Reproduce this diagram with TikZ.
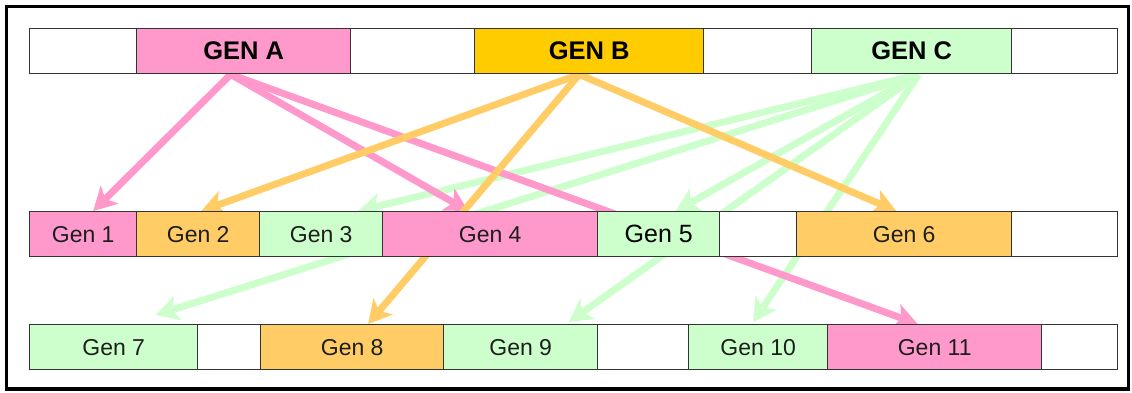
\documentclass[tikz,border=0pt]{standalone}
\usepackage{fontspec}
\setmainfont{Liberation Sans}
\usetikzlibrary{arrows.meta}
\definecolor{pk}{HTML}{FF99CC}
\definecolor{gd}{HTML}{FFCC00}
\definecolor{og}{HTML}{FFCC66}
\definecolor{gr}{HTML}{CCFFCC}
\definecolor{bd}{HTML}{333333}
\definecolor{tx}{HTML}{1E1E1E}
\pgfdeclarelayer{bg}
\pgfsetlayers{bg,main}
\begin{document}
\begin{tikzpicture}[x=1pt,y=-1pt,
  cell/.style={draw=bd, line width=1.4pt, inner sep=0pt, anchor=north west,
    minimum height=45pt, fill=white, font=\fontsize{23}{27}\selectfont, text=tx},
  topcell/.style={cell, font=\fontsize{25.5}{30}\selectfont\bfseries, text=black},
  link/.style={line width=7pt, -{Stealth[length=23pt,width=25pt,inset=6pt]}},
]
\useasboundingbox (0,0) rectangle (1132,392);
\draw[line width=3.5pt] (6.5,6.5) rectangle (1128.5,389);
% top row
\node[topcell, minimum width=107pt] (w1) at (29,28) {};
\node[topcell, minimum width=214pt, fill=pk] (gA) at (136,28) {\raisebox{-2pt}{GEN A}};
\node[topcell, minimum width=124pt] (w2) at (350,28) {};
\node[topcell, minimum width=229pt, fill=gd] (gB) at (474,28) {\raisebox{-2pt}{GEN B}};
\node[topcell, minimum width=108pt] (w3) at (703,28) {};
\node[topcell, minimum width=200pt, fill=gr] (gC) at (811,28) {\raisebox{-2pt}{GEN C}};
\node[topcell, minimum width=106pt] (w4) at (1011,28) {};
% middle row
\node[cell, minimum width=107pt, fill=pk] (g1) at (29,211) {\raisebox{-1.5pt}{Gen 1}};
\node[cell, minimum width=123pt, fill=og] (g2) at (136,211) {\raisebox{-1.5pt}{Gen 2}};
\node[cell, minimum width=123pt, fill=gr] (g3) at (259,211) {\raisebox{-1.5pt}{Gen 3}};
\node[cell, minimum width=215pt, fill=pk] (g4) at (382,211) {\raisebox{-1.5pt}{Gen 4}};
\node[cell, minimum width=122pt, fill=gr, font=\fontsize{25}{29}\selectfont, text=black] (g5) at (597,211) {\raisebox{-4pt}{Gen 5}};
\node[cell, minimum width=77pt] (m1) at (719,211) {};
\node[cell, minimum width=215pt, fill=og] (g6) at (796,211) {\raisebox{-1.5pt}{Gen 6}};
\node[cell, minimum width=106pt] (m2) at (1011,211) {};
% bottom row
\node[cell, minimum width=168pt, fill=gr] (g7) at (29,324) {\raisebox{-1.5pt}{Gen 7}};
\node[cell, minimum width=63pt] (b1) at (197,324) {};
\node[cell, minimum width=183pt, fill=og] (g8) at (260,324) {\raisebox{-1.5pt}{Gen 8}};
\node[cell, minimum width=154pt, fill=gr] (g9) at (443,324) {\raisebox{-1.5pt}{Gen 9}};
\node[cell, minimum width=91pt] (b2) at (597,324) {};
\node[cell, minimum width=139pt, fill=gr] (g10) at (688,324) {\raisebox{-1.5pt}{Gen 10}};
\node[cell, minimum width=214pt, fill=pk] (g11) at (827,324) {\raisebox{-1.5pt}{Gen 11}};
\node[cell, minimum width=76pt] (b3) at (1041,324) {};
% connectors
\begin{pgfonlayer}{bg}
\begin{scope}[link, draw=gr]
\draw ([xshift=7pt]gC.south) -- ([xshift=37pt]g3.north);
\draw ([xshift=7pt]gC.south) -- ([xshift=42pt,yshift=9pt]g7.north);
\draw ([xshift=7pt]gC.south) -- ([xshift=17pt]g5.north);
\draw ([xshift=7pt]gC.south) -- ([xshift=48pt,yshift=2pt]g9.north);
\draw ([xshift=7pt]gC.south) -- ([xshift=-5pt,yshift=2pt]g10.north);
\end{scope}
\begin{scope}[link, draw=pk]
\draw ([xshift=-13pt]gA.south) -- ([xshift=10pt]g1.north);
\draw ([xshift=-13pt]gA.south) -- ([xshift=-22pt]g4.north);
\draw ([xshift=-13pt]gA.south) -- ([xshift=-17pt]g11.north);
\end{scope}
\begin{scope}[link, draw=og]
\draw ([xshift=-10pt]gB.south) -- ([xshift=3pt]g2.north);
\draw ([xshift=-10pt]gB.south) -- ([xshift=16pt]g8.north);
\draw ([xshift=-10pt]gB.south) -- ([xshift=-8pt]g6.north);
\end{scope}
\end{pgfonlayer}
\end{tikzpicture}
\end{document}
